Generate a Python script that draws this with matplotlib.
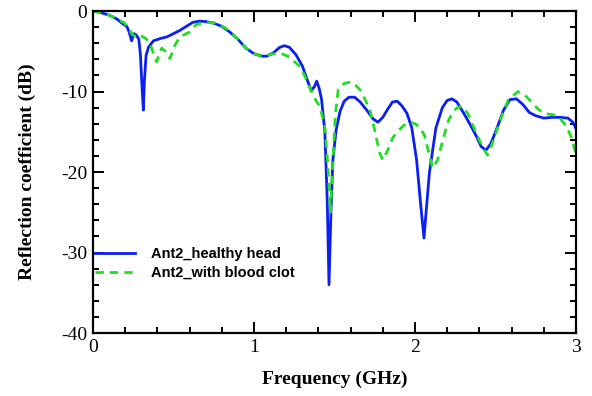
import matplotlib
matplotlib.use('Agg')
import matplotlib.pyplot as plt
from matplotlib.ticker import MultipleLocator

plt.rcParams['axes.unicode_minus'] = False

# Ant2_healthy head
freq_healthy = [0, 0.05, 0.1, 0.15, 0.18, 0.21, 0.225, 0.24, 0.255, 0.27, 0.285, 0.295,
                0.305, 0.313, 0.32, 0.33, 0.345, 0.375, 0.42, 0.46, 0.5, 0.54, 0.58, 0.62,
                0.66, 0.7, 0.75, 0.8, 0.85, 0.9, 0.95, 1.0, 1.05, 1.08, 1.12, 1.16, 1.19,
                1.22, 1.26, 1.3, 1.33, 1.355, 1.375, 1.39, 1.405, 1.42, 1.44, 1.455, 1.466,
                1.478, 1.49, 1.51, 1.534, 1.56, 1.59, 1.625, 1.66, 1.7, 1.74, 1.77, 1.8,
                1.83, 1.86, 1.89, 1.92, 1.95, 1.98, 2.01, 2.035, 2.056, 2.07, 2.09, 2.13,
                2.17, 2.2, 2.23, 2.26, 2.3, 2.34, 2.38, 2.41, 2.44, 2.47, 2.51, 2.55, 2.59,
                2.63, 2.67, 2.71, 2.75, 2.8, 2.85, 2.9, 2.95, 2.98, 3.0]
s11_healthy = [0, -0.2, -0.5, -1.0, -1.5, -1.9, -2.6, -3.7, -2.8, -3.0, -3.5, -5.5,
               -9.5, -12.3, -8.5, -5.5, -4.5, -3.7, -3.4, -3.2, -2.8, -2.4, -1.9, -1.4,
               -1.25, -1.3, -1.5, -1.9, -2.6, -3.5, -4.6, -5.3, -5.6, -5.6, -5.2, -4.5, -4.3,
               -4.5, -5.4, -6.8, -8.5, -9.9, -9.4, -8.7, -9.6, -11.0, -15.0, -23.5, -34.0,
               -25.0, -18.5, -14.8, -12.5, -11.2, -10.7, -10.7, -11.3, -12.3, -13.4, -13.8, -13.2,
               -12.2, -11.3, -11.2, -11.8, -12.7, -14.5, -18.5, -24.0, -28.2, -24.7, -20.0, -14.5,
               -12.0, -11.1, -10.9, -11.3, -12.6, -14.0, -15.5, -16.8, -17.3, -16.5, -14.5, -12.3, -11.0,
               -10.9, -11.6, -12.6, -13.0, -13.3, -13.2, -13.2, -13.3, -13.8, -14.6]

# Ant2_with blood clot
freq_clot = [0, 0.05, 0.1, 0.15, 0.19, 0.22, 0.24, 0.265, 0.29, 0.32, 0.35, 0.375, 0.395,
             0.41, 0.427, 0.45, 0.478, 0.495, 0.51, 0.54, 0.6, 0.64, 0.7, 0.77, 0.83, 0.89,
             0.95, 1.0, 1.05, 1.1, 1.16, 1.22, 1.29, 1.33, 1.37, 1.41, 1.44, 1.46, 1.475,
             1.49, 1.505, 1.523, 1.56, 1.6, 1.63, 1.66, 1.69, 1.72, 1.75, 1.78, 1.8, 1.83,
             1.86, 1.89, 1.93, 1.97, 2.0, 2.03, 2.06, 2.09, 2.11, 2.14, 2.18, 2.21, 2.24,
             2.27, 2.3, 2.33, 2.36, 2.39, 2.42, 2.45, 2.47, 2.5, 2.54, 2.58, 2.64, 2.68,
             2.72, 2.76, 2.8, 2.86, 2.9, 2.94, 2.97, 3.0]
s11_clot = [0, -0.2, -0.5, -1.0, -1.4, -2.0, -2.8, -3.2, -3.0, -3.3, -3.8, -5.2, -6.3,
            -5.5, -4.6, -5.0, -5.9, -5.0, -4.2, -3.2, -2.6, -1.7, -1.4, -1.5, -2.2, -3.3,
            -4.6, -5.3, -5.6, -5.4, -5.2, -5.7, -7.0, -8.7, -10.6, -11.9, -14.4, -19.5, -25.0,
            -19.0, -13.0, -9.8, -9.0, -8.8, -9.2, -9.8, -11.0, -12.3, -14.8, -17.6, -18.5, -17.3,
            -15.8, -15.0, -14.2, -13.8, -14.0, -14.4, -15.5, -18.0, -19.5, -18.5, -15.5, -13.5, -12.4,
            -11.9, -11.9, -12.8, -14.2, -15.6, -16.9, -17.9, -17.0, -15.3, -13.0, -11.0, -10.0, -10.4,
            -11.2, -12.1, -12.7, -12.9, -13.3, -14.3, -15.6, -17.8]

fig = plt.figure(figsize=(5.92, 3.96), dpi=100)
ax = fig.add_axes([0.157, 0.159, 0.816, 0.813])

ax.plot(freq_healthy, s11_healthy, color='#0a1ff0', lw=2.0, label='Ant2_healthy head')
ax.plot(freq_clot, s11_clot, color='#22dd22', lw=2.0, ls=(0, (3, 2.2)), label='Ant2_with blood clot')

ax.set_xlim(0, 3)
ax.set_ylim(-40, 0)
ax.xaxis.set_major_locator(MultipleLocator(1))
ax.xaxis.set_minor_locator(MultipleLocator(0.2))
ax.yaxis.set_major_locator(MultipleLocator(10))
ax.yaxis.set_minor_locator(MultipleLocator(2))
ax.tick_params(which='both', direction='in', top=True, right=True, width=1.4)
ax.tick_params(which='major', length=8, labelsize=14, pad=4)
ax.tick_params(which='minor', length=4.5)
for lab in ax.get_xticklabels() + ax.get_yticklabels():
    lab.set_family('Liberation Serif')
for sp in ax.spines.values():
    sp.set_linewidth(1.6)

ax.set_xlabel('Frequency (GHz)', family='Liberation Serif', fontweight='bold', fontsize=14, labelpad=11)
ax.set_ylabel('Reflection coefficient (dB)', family='Liberation Serif', fontweight='bold', fontsize=14, labelpad=18)

ax.legend(loc='upper left', bbox_to_anchor=(0.004, 0.2675), frameon=False, borderpad=0,
          borderaxespad=0, handlelength=2.75, handletextpad=1.1, labelspacing=0.35,
          prop={'family': 'Liberation Sans', 'weight': 'bold', 'size': 10.5})

fig.savefig('out.png', dpi=100)
